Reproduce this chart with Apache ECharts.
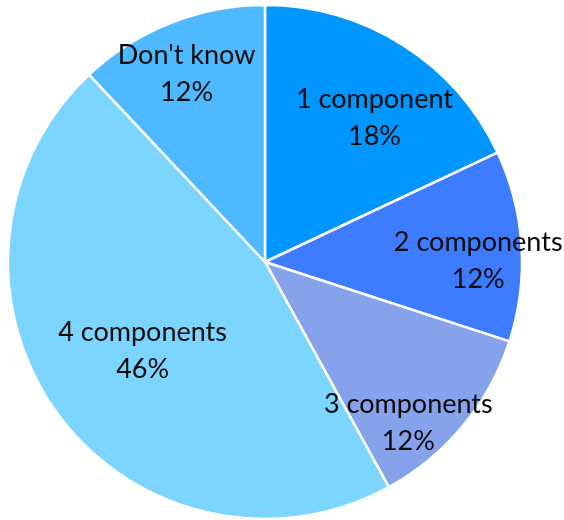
<!DOCTYPE html>
<html>
<head>
  <meta charset="utf-8">
  <title>Components pie</title>
  <script src="https://cdn.jsdelivr.net/npm/echarts@6/dist/echarts.min.js"></script>
  <style>
    html, body { margin: 0; padding: 0; background: #fff; }
    #main { width: 564px; height: 520px; }
  </style>
</head>
<body>
  <div id="main"></div>
  <script>
    // data
    var categories = ['1 component', '2 components', '3 components', '4 components', "Don't know"];
    var shares = [18, 12, 12, 46, 12];

    // styling
    var sliceColors = ['#0096ff', '#3d7cff', '#86a2ea', '#7bd5ff', '#4eb9ff'];
    // nudge of each label away from the default inside spot
    var labelNudge = [[39, -33], [82, 7], [42, 77], [-16, 12], [-30, -66]];

    var chart = echarts.init(document.getElementById('main'));

    var pieData = [];
    for (var i = 0; i < categories.length; i++) {
      pieData.push({
        name: categories[i],
        value: shares[i],
        itemStyle: { color: sliceColors[i] }
      });
    }

    chart.setOption({
      animation: false,
      backgroundColor: '#fff',
      series: [{
        type: 'pie',
        center: [265, 262],
        radius: 257,
        startAngle: 90,
        clockwise: true,
        data: pieData,
        itemStyle: { borderColor: '#fff', borderWidth: 2.5 },
        label: {
          position: 'inside',
          formatter: '{b}\n{d}%',
          color: '#0a0a0a',
          fontFamily: 'Lato',
          fontSize: 27,
          lineHeight: 37
        },
        labelLine: { show: false },
        labelLayout: function (p) {
          var n = labelNudge[p.dataIndex];
          return { dx: n[0], dy: n[1] };
        },
        emphasis: { disabled: true }
      }]
    });
  </script>
</body>
</html>
